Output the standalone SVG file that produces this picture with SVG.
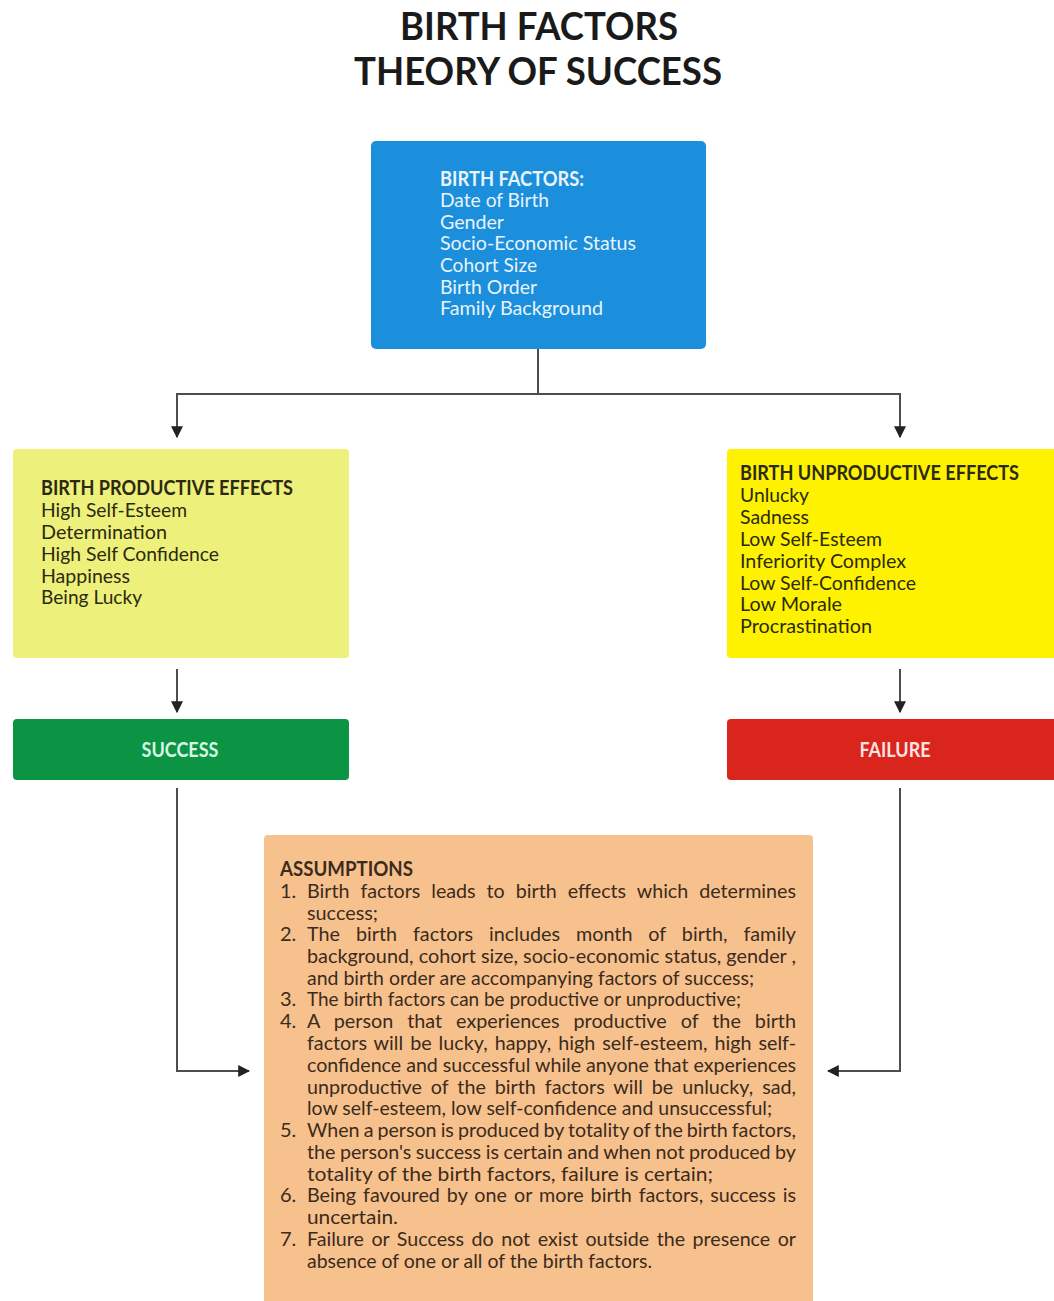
<svg xmlns="http://www.w3.org/2000/svg" width="1054" height="1301" viewBox="0 0 1054 1301">
<style>
text{font-family:Lato,"Liberation Sans",sans-serif}
.title{font-size:38px;font-weight:bold;fill:#1a1a1a}
.bf{font-size:20px;fill:#e8f3fc}
.ye{font-size:20px;fill:#2b2a10}
.res{font-size:20px;font-weight:bold;text-anchor:middle}
.as{font-size:20px;fill:#3b2b1c}
.b{font-weight:bold}
.conn{fill:none;stroke:#4d4d4d;stroke-width:2}
</style>
<defs>
<marker id="arr" viewBox="0 0 10 10" refX="9" refY="5" markerWidth="6" markerHeight="6" orient="auto" markerUnits="strokeWidth">
<path d="M0,0 L10,5 L0,10 z" fill="#222"/>
</marker>
</defs>
<rect width="1054" height="1301" fill="#ffffff"/>

<g id="title">
<text class="title" x="539" y="40" text-anchor="middle" textLength="278" lengthAdjust="spacingAndGlyphs">BIRTH FACTORS</text>
<text class="title" x="538" y="85" text-anchor="middle" textLength="368" lengthAdjust="spacingAndGlyphs">THEORY OF SUCCESS</text>
</g>

<g id="connectors">
<path class="conn" d="M538,349 V394 H177 V437" marker-end="url(#arr)"/>
<path class="conn" d="M538,394 H900 V437" marker-end="url(#arr)"/>
<path class="conn" d="M177,669 V712" marker-end="url(#arr)"/>
<path class="conn" d="M900,669 V712" marker-end="url(#arr)"/>
<path class="conn" d="M177,788 V1071 H249" marker-end="url(#arr)"/>
<path class="conn" d="M900,788 V1071 H828" marker-end="url(#arr)"/>
</g>

<g id="birth-factors">
<rect x="371" y="141" width="335" height="208" rx="5" fill="#1b8fdb"/>
<text class="bf b" x="440" y="186" textLength="144" lengthAdjust="spacingAndGlyphs">BIRTH FACTORS:</text>
<text class="bf" x="440" y="207" textLength="109" lengthAdjust="spacingAndGlyphs">Date of Birth</text>
<text class="bf" x="440" y="229" textLength="64" lengthAdjust="spacingAndGlyphs">Gender</text>
<text class="bf" x="440" y="250" textLength="196" lengthAdjust="spacingAndGlyphs">Socio-Economic Status</text>
<text class="bf" x="440" y="272" textLength="97" lengthAdjust="spacingAndGlyphs">Cohort Size</text>
<text class="bf" x="440" y="294" textLength="97" lengthAdjust="spacingAndGlyphs">Birth Order</text>
<text class="bf" x="440" y="315" textLength="163" lengthAdjust="spacingAndGlyphs">Family Background</text>
</g>

<g id="productive">
<rect x="13" y="449" width="336" height="209" rx="4" fill="#edf07a"/>
<text class="ye b" x="41" y="495" textLength="252" lengthAdjust="spacingAndGlyphs">BIRTH PRODUCTIVE EFFECTS</text>
<text class="ye" x="41" y="517" textLength="146" lengthAdjust="spacingAndGlyphs">High Self-Esteem</text>
<text class="ye" x="41" y="539" textLength="126" lengthAdjust="spacingAndGlyphs">Determination</text>
<text class="ye" x="41" y="561" textLength="178" lengthAdjust="spacingAndGlyphs">High Self Confidence</text>
<text class="ye" x="41" y="583" textLength="89" lengthAdjust="spacingAndGlyphs">Happiness</text>
<text class="ye" x="41" y="604" textLength="101" lengthAdjust="spacingAndGlyphs">Being Lucky</text>
</g>

<g id="unproductive">
<rect x="727" y="449" width="335" height="209" rx="4" fill="#fef200"/>
<text class="ye b" x="740" y="480" textLength="279" lengthAdjust="spacingAndGlyphs">BIRTH UNPRODUCTIVE EFFECTS</text>
<text class="ye" x="740" y="502" textLength="69" lengthAdjust="spacingAndGlyphs">Unlucky</text>
<text class="ye" x="740" y="524" textLength="69" lengthAdjust="spacingAndGlyphs">Sadness</text>
<text class="ye" x="740" y="546" textLength="142" lengthAdjust="spacingAndGlyphs">Low Self-Esteem</text>
<text class="ye" x="740" y="568" textLength="166" lengthAdjust="spacingAndGlyphs">Inferiority Complex</text>
<text class="ye" x="740" y="590" textLength="176" lengthAdjust="spacingAndGlyphs">Low Self-Confidence</text>
<text class="ye" x="740" y="611" textLength="102" lengthAdjust="spacingAndGlyphs">Low Morale</text>
<text class="ye" x="740" y="633" textLength="132" lengthAdjust="spacingAndGlyphs">Procrastination</text>
</g>

<g id="success">
<rect x="13" y="719" width="336" height="61" rx="4" fill="#0a9444"/>
<text class="res" x="180" y="757" fill="#d8f6e4" textLength="77" lengthAdjust="spacingAndGlyphs">SUCCESS</text>
</g>

<g id="failure">
<rect x="727" y="719" width="335" height="61" rx="4" fill="#da251d"/>
<text class="res" x="895" y="757" fill="#fbe3e0" textLength="71" lengthAdjust="spacingAndGlyphs">FAILURE</text>
</g>

<g id="assumptions">
<rect x="264" y="835" width="549" height="480" rx="4" fill="#f7c18d"/>
<text class="as b" x="280" y="876" textLength="133" lengthAdjust="spacingAndGlyphs">ASSUMPTIONS</text>
<text class="as" x="280" y="898">1.</text>
<text class="as" x="307" y="898" word-spacing="6" textLength="489" lengthAdjust="spacingAndGlyphs">Birth factors leads to birth effects which determines</text>
<text class="as" x="307" y="920" textLength="71" lengthAdjust="spacingAndGlyphs">success;</text>
<text class="as" x="280" y="941">2.</text>
<text class="as" x="307" y="941" word-spacing="11" textLength="489" lengthAdjust="spacingAndGlyphs">The birth factors includes month of birth, family</text>
<text class="as" x="307" y="963" textLength="489" lengthAdjust="spacingAndGlyphs">background, cohort size, socio-economic status, gender ,</text>
<text class="as" x="307" y="985" textLength="447" lengthAdjust="spacingAndGlyphs">and birth order are accompanying factors of success;</text>
<text class="as" x="280" y="1006">3.</text>
<text class="as" x="307" y="1006" textLength="434" lengthAdjust="spacingAndGlyphs">The birth factors can be productive or unproductive;</text>
<text class="as" x="280" y="1028">4.</text>
<text class="as" x="307" y="1028" word-spacing="9" textLength="489" lengthAdjust="spacingAndGlyphs">A person that experiences productive of the birth</text>
<text class="as" x="307" y="1050" word-spacing="2" textLength="489" lengthAdjust="spacingAndGlyphs">factors will be lucky, happy, high self-esteem, high self-</text>
<text class="as" x="307" y="1072" textLength="489" lengthAdjust="spacingAndGlyphs">confidence and successful while anyone that experiences</text>
<text class="as" x="307" y="1094" word-spacing="4" textLength="489" lengthAdjust="spacingAndGlyphs">unproductive of the birth factors will be unlucky, sad,</text>
<text class="as" x="307" y="1115" textLength="465" lengthAdjust="spacingAndGlyphs">low self-esteem, low self-confidence and unsuccessful;</text>
<text class="as" x="280" y="1137">5.</text>
<text class="as" x="307" y="1137" word-spacing="-1" textLength="489" lengthAdjust="spacingAndGlyphs">When a person is produced by totality of the birth factors,</text>
<text class="as" x="307" y="1159" word-spacing="-0.5" textLength="489" lengthAdjust="spacingAndGlyphs">the person's success is certain and when not produced by</text>
<text class="as" x="307" y="1181" textLength="406" lengthAdjust="spacingAndGlyphs">totality of the birth factors, failure is certain;</text>
<text class="as" x="280" y="1202">6.</text>
<text class="as" x="307" y="1202" word-spacing="2" textLength="489" lengthAdjust="spacingAndGlyphs">Being favoured by one or more birth factors, success is</text>
<text class="as" x="307" y="1224" textLength="91" lengthAdjust="spacingAndGlyphs">uncertain.</text>
<text class="as" x="280" y="1246">7.</text>
<text class="as" x="307" y="1246" word-spacing="2.5" textLength="489" lengthAdjust="spacingAndGlyphs">Failure or Success do not exist outside the presence or</text>
<text class="as" x="307" y="1268" textLength="345" lengthAdjust="spacingAndGlyphs">absence of one or all of the birth factors.</text>
</g>
</svg>
